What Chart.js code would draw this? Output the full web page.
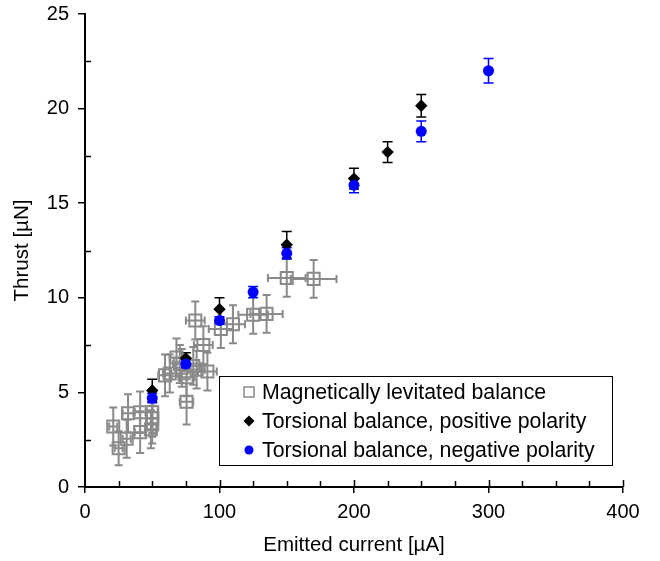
<!DOCTYPE html>
<html>
<head>
<meta charset="utf-8">
<script src="https://cdn.jsdelivr.net/npm/chart.js@4/dist/chart.umd.min.js"></script>
<style>
  html, body { margin: 0; padding: 0; background: #fff; }
  #wrap { width: 660px; height: 561px; position: relative; }
</style>
</head>
<body>
<div id="wrap"><canvas id="thrust-chart" width="660" height="561"></canvas></div>
<script>
// Magnetically levitated balance (current, thrust, and both uncertainties)
const magCurrent    = [21, 25, 31, 32, 41, 41, 50, 50, 50, 49, 59.5, 63, 68, 70.5, 72, 75.5, 75.5, 80.5, 83, 82, 88, 91, 101, 110, 125, 135, 150, 170];
const magThrust     = [3.2, 2.05, 2.55, 3.9, 3.95, 2.9, 3.95, 3.65, 3.3, 3.05, 5.9, 6.0, 6.85, 6.5, 6.3, 5.8, 4.5, 6.4, 6.2, 8.8, 7.5, 6.1, 8.35, 8.6, 9.1, 9.15, 11.05, 11.0];
const magCurrentErr = [3, 3, 3, 4, 4, 4, 4, 4, 4, 4, 5, 5, 5, 5, 5, 6, 5, 6, 6, 7, 7, 7, 9, 9, 11, 12, 14, 17];
const magThrustErr  = [1.0, 0.9, 1.0, 1.0, 1.1, 1.1, 1.1, 1.0, 1.0, 1.0, 1.1, 1.0, 1.0, 1.0, 1.0, 1.0, 1.2, 1.0, 1.0, 1.0, 1.0, 1.0, 1.0, 1.0, 1.0, 1.0, 1.0, 1.0];

// Torsional balance, positive polarity
const posCurrent   = [50, 75, 100, 150, 200, 225, 250];
const posThrust    = [5.1, 6.8, 9.4, 12.8, 16.3, 17.7, 20.15];
const posThrustErr = [0.6, 0.3, 0.6, 0.7, 0.55, 0.55, 0.6];

// Torsional balance, negative polarity
const negCurrent   = [50, 75, 100, 125, 150, 200, 250, 300];
const negThrust    = [4.7, 6.5, 8.8, 10.3, 12.35, 15.95, 18.8, 22.0];
const negThrustErr = [0.25, 0.2, 0.2, 0.3, 0.3, 0.4, 0.55, 0.65];

const xTicks = [0, 100, 200, 300, 400];
const yTicks = [0, 5, 10, 15, 20, 25];
const xMinorStep = 25;
const yMinorStep = 2.5;

const FONT = 'Liberation Sans, Arial, sans-serif';
const GRAY = '#8a8a8a';

function toPoints(xs, ys) {
    return xs.map((x, i) => ({ x: x, y: ys[i] }));
}

// Error bars drawn from per-dataset arrays through the chart scales
const errorBars = {
    id: 'errorBars',
    beforeDatasetsDraw(chart) {
        const ctx = chart.ctx;
        const xs = chart.scales.x, ys = chart.scales.y;
        chart.data.datasets.forEach(ds => {
            const eb = ds.errorBars;
            if (!eb) return;
            ctx.save();
            ctx.strokeStyle = eb.color;
            ctx.lineWidth = eb.width;
            ds.data.forEach((p, i) => {
                const px = xs.getPixelForValue(p.x);
                const py = ys.getPixelForValue(p.y);
                ctx.beginPath();
                if (eb.y) {
                    const t = ys.getPixelForValue(p.y + eb.y[i]);
                    const b = ys.getPixelForValue(p.y - eb.y[i]);
                    ctx.moveTo(px, t); ctx.lineTo(px, b);
                    ctx.moveTo(px - eb.cap, t); ctx.lineTo(px + eb.cap, t);
                    ctx.moveTo(px - eb.cap, b); ctx.lineTo(px + eb.cap, b);
                }
                if (eb.x) {
                    const l = xs.getPixelForValue(p.x - eb.x[i]);
                    const r = xs.getPixelForValue(p.x + eb.x[i]);
                    ctx.moveTo(l, py); ctx.lineTo(r, py);
                    ctx.moveTo(l, py - eb.cap); ctx.lineTo(l, py + eb.cap);
                    ctx.moveTo(r, py - eb.cap); ctx.lineTo(r, py + eb.cap);
                }
                ctx.stroke();
            });
            ctx.restore();
        });
    }
};

// Inward minor ticks plus the inner half of the major x ticks
const minorTicks = {
    id: 'minorTicks',
    afterDraw(chart) {
        const ctx = chart.ctx;
        const xs = chart.scales.x, ys = chart.scales.y;
        const area = chart.chartArea;
        ctx.save();
        ctx.strokeStyle = '#000';
        ctx.lineWidth = 1.5;
        ctx.beginPath();
        for (let v = xs.min + xMinorStep; v <= xs.max; v += xMinorStep) {
            const px = Math.round(xs.getPixelForValue(v)) + 0.5;
            const len = (v % 100 === 0) ? 7 : 6;
            ctx.moveTo(px, area.bottom);
            ctx.lineTo(px, area.bottom - len);
        }
        for (let v = ys.min + yMinorStep; v < ys.max; v += yMinorStep) {
            if (v % 5 === 0) continue;
            const py = Math.round(ys.getPixelForValue(v)) + 0.5;
            ctx.moveTo(area.left, py);
            ctx.lineTo(area.left + 6, py);
        }
        ctx.stroke();
        ctx.restore();
    }
};

// Boxed legend in the lower right of the plot
const boxLegend = {
    id: 'boxLegend',
    afterDraw(chart) {
        const ctx = chart.ctx;
        const area = chart.chartArea;
        const left = area.left + 134, top = area.bottom - 111;
        const w = 393, h = 89;
        ctx.save();
        ctx.fillStyle = '#fff';
        ctx.fillRect(left, top, w, h);
        ctx.strokeStyle = '#000';
        ctx.lineWidth = 1;
        ctx.strokeRect(left + 0.5, top + 0.5, w, h);
        ctx.font = '21.3px ' + FONT;
        ctx.textBaseline = 'middle';
        chart.data.datasets.forEach((ds, i) => {
            const cy = top + 16 + i * 29;
            const mx = left + 30;
            ctx.beginPath();
            if (ds.pointStyle === 'rect') {
                ctx.strokeStyle = ds.borderColor;
                ctx.lineWidth = 1.5;
                ctx.strokeRect(mx - 5, cy - 5, 10, 10);
            } else if (ds.pointStyle === 'rectRot') {
                ctx.fillStyle = ds.backgroundColor;
                ctx.moveTo(mx, cy - 5.5); ctx.lineTo(mx + 5.5, cy);
                ctx.lineTo(mx, cy + 5.5); ctx.lineTo(mx - 5.5, cy);
                ctx.closePath(); ctx.fill();
            } else {
                ctx.fillStyle = ds.backgroundColor;
                ctx.arc(mx, cy, 4.5, 0, Math.PI * 2);
                ctx.fill();
            }
            ctx.fillStyle = '#000';
            ctx.fillText(ds.label, left + 43, cy + 1);
        });
        ctx.restore();
    }
};

new Chart(document.getElementById('thrust-chart').getContext('2d'), {
    type: 'scatter',
    data: {
        datasets: [
            {
                label: 'Magnetically levitated balance',
                data: toPoints(magCurrent, magThrust),
                pointStyle: 'rect',
                pointRadius: 8.5,
                borderColor: GRAY,
                backgroundColor: 'rgba(0,0,0,0)',
                pointBorderWidth: 2,
                order: 3,
                errorBars: { x: magCurrentErr, y: magThrustErr, color: GRAY, width: 2, cap: 4 }
            },
            {
                label: 'Torsional balance, positive polarity',
                data: toPoints(posCurrent, posThrust),
                pointStyle: 'rectRot',
                pointRadius: 6.2,
                borderColor: '#000',
                backgroundColor: '#000',
                pointBorderWidth: 0,
                order: 2,
                errorBars: { y: posThrustErr, color: '#000', width: 1.5, cap: 5 }
            },
            {
                label: 'Torsional balance, negative polarity',
                data: toPoints(negCurrent, negThrust),
                pointStyle: 'circle',
                pointRadius: 5.5,
                borderColor: '#0000ff',
                backgroundColor: '#0000ff',
                pointBorderWidth: 0,
                order: 1,
                errorBars: { y: negThrustErr, color: '#0000ff', width: 1.5, cap: 5 }
            }
        ]
    },
    options: {
        responsive: false,
        animation: false,
        layout: { padding: { top: 14, right: 37, left: 0, bottom: 0 } },
        plugins: {
            legend: { display: false },
            tooltip: { enabled: false }
        },
        scales: {
            x: {
                type: 'linear',
                min: 0,
                max: 400,
                afterBuildTicks: scale => { scale.ticks = xTicks.map(v => ({ value: v })); },
                afterFit: scale => { scale.height = 74; scale.paddingLeft = 0; scale.paddingRight = 0; },
                border: { display: true, color: '#000', width: 2 },
                grid: { drawOnChartArea: false, drawTicks: true, tickLength: 6, color: '#000', lineWidth: 1.5 },
                ticks: { color: '#000', font: { family: FONT, size: 20 }, padding: 7, maxRotation: 0 },
                title: { display: true, text: 'Emitted current [µA]', color: '#000', font: { family: FONT, size: 20.5 }, padding: { top: 0, bottom: 3 } }
            },
            y: {
                type: 'linear',
                min: 0,
                max: 25,
                afterBuildTicks: scale => { scale.ticks = yTicks.map(v => ({ value: v })); },
                afterFit: scale => { scale.width = 85; scale.paddingTop = 0; scale.paddingBottom = 0; },
                border: { display: true, color: '#000', width: 2 },
                grid: { drawOnChartArea: false, drawTicks: true, tickLength: 7, color: '#000', lineWidth: 1.5 },
                ticks: { color: '#000', font: { family: FONT, size: 20 }, padding: 9 },
                title: { display: true, text: 'Thrust [µN]', color: '#000', font: { family: FONT, size: 20.5 }, padding: { top: 10, bottom: 0 } }
            }
        }
    },
    plugins: [errorBars, minorTicks, boxLegend]
});
</script>
</body>
</html>
